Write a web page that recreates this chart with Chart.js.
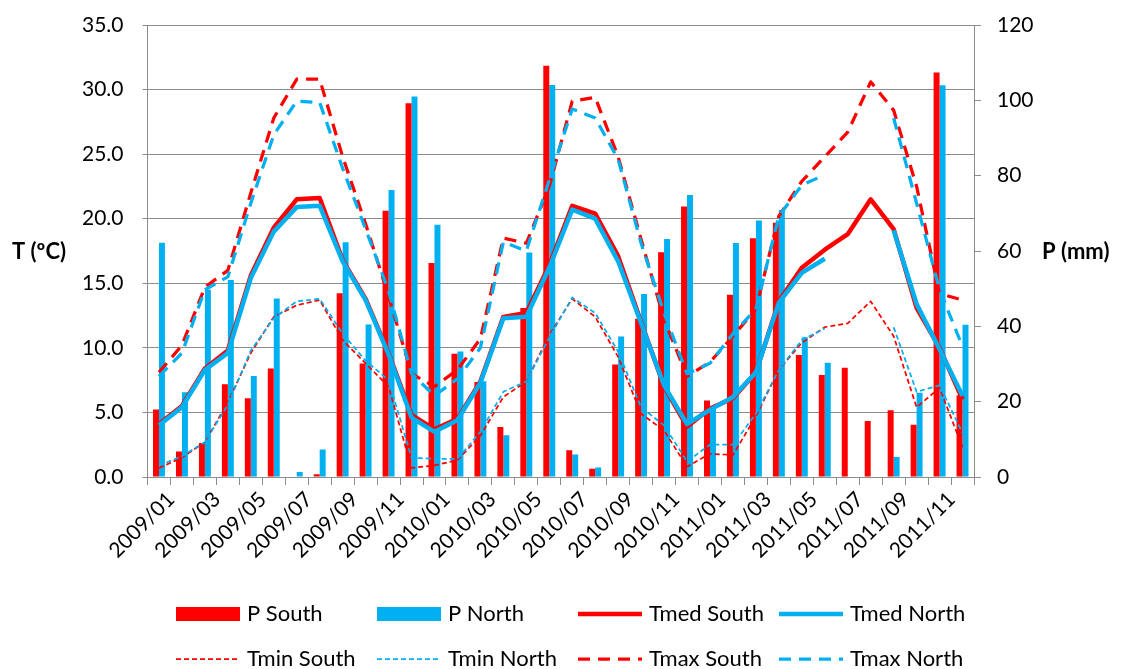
<!DOCTYPE html>
<html>
<head>
<meta charset="utf-8">
<script src="https://cdn.jsdelivr.net/npm/chart.js@4.4.0/dist/chart.umd.min.js"></script>
<style>
  body { margin: 0; background: #ffffff; }
  #wrap { width: 1123px; height: 669px; }
</style>
</head>
<body>
<div id="wrap"><canvas id="myChart"></canvas></div>
<script>
const months = [
  '2009/01', '2009/02', '2009/03', '2009/04', '2009/05', '2009/06',
  '2009/07', '2009/08', '2009/09', '2009/10', '2009/11', '2009/12',
  '2010/01', '2010/02', '2010/03', '2010/04', '2010/05', '2010/06',
  '2010/07', '2010/08', '2010/09', '2010/10', '2010/11', '2010/12',
  '2011/01', '2011/02', '2011/03', '2011/04', '2011/05', '2011/06',
  '2011/07', '2011/08', '2011/09', '2011/10', '2011/11', '2011/12'
];

// precipitation (mm)
const pSouth = [
  17.9, 6.8, 9.0, 24.6, 20.9, 28.8, 0, 0.7, 48.8, 30.1, 70.7, 99.2,
  56.8, 32.7, 25.2, 13.3, 44.9, 109.2, 7.1, 2.2, 29.9, 42.0, 59.7, 71.8,
  20.3, 48.4, 63.4, 67.5, 32.4, 27.1, 29.0, 14.9, 17.7, 13.9, 107.4, 21.7
];
const pNorth = [
  62.2, 22.5, 49.7, 52.3, 26.8, 47.4, 1.3, 7.3, 62.3, 40.5, 76.2, 101.0,
  67.0, 33.3, 25.4, 11.1, 59.6, 104.1, 6.0, 2.5, 37.3, 48.6, 63.2, 74.9,
  18.5, 62.1, 68.1, 70.9, 37.1, 30.3, null, null, 5.3, 22.4, 104.0, 40.4
];

// temperatures (ºC)
const tmedSouth = [
  4.1, 5.5, 8.4, 9.8, 15.6, 19.3, 21.5, 21.6, 16.8, 13.8, 9.6, 4.8,
  3.7, 4.5, 7.4, 12.4, 12.7, 16.4, 21.0, 20.4, 17.1, 12.0, 7.0, 3.9,
  5.3, 6.1, 8.1, 13.6, 16.2, 17.6, 18.8, 21.5, 19.2, 13.1, 10.0, 6.0
];
const tmedNorth = [
  4.0, 5.4, 8.3, 9.6, 15.4, 19.0, 20.9, 21.0, 16.7, 13.7, 9.5, 4.6,
  3.5, 4.4, 7.3, 12.3, 12.4, 16.2, 20.7, 20.0, 16.7, 11.9, 7.1, 4.1,
  5.2, 6.2, 8.1, 13.5, 15.8, 16.9, null, null, 19.1, 13.4, 9.9, 6.3
];
const tminSouth = [
  0.7, 1.5, 2.7, 5.8, 9.6, 12.4, 13.3, 13.7, 10.6, 8.8, 7.0, 0.7,
  0.9, 1.3, 3.2, 6.2, 7.4, 11.0, 13.8, 12.4, 9.3, 4.9, 3.6, 0.8,
  1.8, 1.7, 4.7, 8.3, 10.4, 11.6, 11.9, 13.6, 10.9, 5.4, 6.9, 2.3
];
const tminNorth = [
  0.9, 1.6, 2.7, 5.6, 9.8, 12.3, 13.6, 13.8, 11.1, 9.0, 7.5, 1.5,
  1.4, 1.4, 3.5, 6.6, 7.4, 10.8, 13.9, 12.7, 9.7, 5.4, 4.0, 1.2,
  2.5, 2.5, 4.9, 8.3, 10.6, 11.5, null, null, 11.6, 6.6, 7.1, 3.4
];
const tmaxSouth = [
  8.1, 10.2, 14.7, 16.0, 22.0, 27.8, 30.8, 30.8, 24.8, 19.6, 14.0, 8.0,
  7.0, 8.3, 10.7, 18.5, 18.1, 22.5, 29.1, 29.4, 24.8, 18.4, 12.2, 7.8,
  8.9, 10.9, 13.0, 20.2, 22.9, 24.8, 26.7, 30.6, 28.4, 22.5, 14.2, 13.7
];
const tmaxNorth = [
  7.8, 9.6, 14.5, 15.5, 21.2, 26.5, 29.1, 29.0, 23.9, 19.2, 14.4, 8.0,
  6.3, 7.6, 10.0, 18.2, 17.5, 23.0, 28.5, 27.8, 24.6, 18.1, 12.7, 8.0,
  8.8, 11.1, 13.0, 20.2, 22.6, 23.4, null, null, 27.8, 21.2, 14.5, 10.1
];

const RED = '#ff0000';
const BLUE = '#00b0f0';
const GRID = '#8c8c8c';
const FONT = 'Lato, "Open Sans", sans-serif';

function lineSet(label, data, color, width, dash, order) {
  return {
    type: 'line',
    label: label,
    data: data,
    yAxisID: 'yT',
    borderColor: color,
    backgroundColor: color,
    borderWidth: width,
    borderDash: dash,
    borderJoinStyle: 'round',
    pointRadius: 0,
    pointHoverRadius: 0,
    tension: 0,
    spanGaps: false,
    order: order
  };
}

// legend laid out as a fixed 4-column grid under the plot
const gridLegend = {
  id: 'gridLegend',
  afterDraw(chart, args, opts) {
    const ctx = chart.ctx;
    chart.data.datasets.forEach((ds, i) => {
      const x = opts.left + (i % 4) * opts.colWidth;
      const y = opts.top + Math.floor(i / 4) * opts.rowHeight;
      ctx.save();
      if (ds.type === 'bar') {
        ctx.fillStyle = ds.backgroundColor;
        ctx.fillRect(x, y - 7, opts.sample, 14);
      } else {
        ctx.strokeStyle = ds.borderColor;
        ctx.lineWidth = ds.borderWidth;
        ctx.setLineDash(ds.borderDash || []);
        ctx.beginPath();
        ctx.moveTo(x, y);
        ctx.lineTo(x + opts.sample, y);
        ctx.stroke();
      }
      ctx.setLineDash([]);
      ctx.fillStyle = '#000';
      ctx.font = '22px ' + FONT;
      ctx.textBaseline = 'middle';
      ctx.textAlign = 'left';
      ctx.fillText(ds.label, x + opts.sample + 7, y);
      ctx.restore();
    });
  }
};

// horizontal axis titles beside the tick labels
const sideTitles = {
  id: 'sideTitles',
  afterDraw(chart) {
    const ctx = chart.ctx;
    ctx.save();
    ctx.fillStyle = '#000';
    ctx.font = 'bold 22px ' + FONT;
    ctx.textBaseline = 'middle';
    ctx.textAlign = 'left';
    ctx.fillText('T (ºC)', 12, 252);
    ctx.fillText('P (mm)', 1042, 252);
    ctx.restore();
  }
};

const data = {
  labels: months,
  datasets: [
    { type: 'bar', label: 'P South', data: pSouth, yAxisID: 'yP', backgroundColor: RED, borderWidth: 0, order: 20 },
    { type: 'bar', label: 'P North', data: pNorth, yAxisID: 'yP', backgroundColor: BLUE, borderWidth: 0, order: 20 },
    lineSet('Tmed South', tmedSouth, RED, 4.5, [], 8),
    lineSet('Tmed North', tmedNorth, BLUE, 4.5, [], 7),
    lineSet('Tmin South', tminSouth, RED, 1.75, [5, 3], 6),
    lineSet('Tmin North', tminNorth, BLUE, 1.75, [5, 3], 5),
    lineSet('Tmax South', tmaxSouth, RED, 3.25, [12, 8], 4),
    lineSet('Tmax North', tmaxNorth, BLUE, 3.25, [12, 8], 3)
  ]
};

const tickFont = { family: FONT, size: 21 };

// fixed axis sizes so the plot area sits where it should
function fixWidth(w) {
  return (s) => {
    s.width = w;
    s.paddingTop = 0;
    s.paddingBottom = 0;
  };
}

const config = {
  type: 'bar',
  data: data,
  plugins: [gridLegend, sideTitles],
  options: {
    responsive: true,
    maintainAspectRatio: false,
    animation: false,
    layout: { padding: { top: 25, left: 0, right: 0, bottom: 0 } },
    datasets: {
      bar: { categoryPercentage: 0.52, barPercentage: 1.0 }
    },
    plugins: {
      legend: { display: false },
      tooltip: { enabled: false },
      gridLegend: { left: 176, top: 614, colWidth: 201, rowHeight: 45, sample: 64 }
    },
    scales: {
      x: {
        offset: true,
        grid: { offset: true, drawOnChartArea: false, drawTicks: true, tickLength: 8, color: GRID },
        border: { display: true, color: GRID, width: 1 },
        ticks: {
          autoSkip: false,
          minRotation: 45,
          maxRotation: 45,
          color: '#000',
          font: tickFont,
          padding: 2,
          labelOffset: 12,
          callback: (v, i) => (i % 2 === 0 ? months[i] : '')
        },
        afterFit: (s) => { s.height = 192; }
      },
      yT: {
        position: 'left',
        min: 0,
        max: 35,
        grid: { color: GRID, tickLength: 5 },
        border: { display: true, color: GRID, width: 1 },
        ticks: {
          stepSize: 5,
          padding: 19,
          color: '#000',
          font: tickFont,
          callback: (v) => v.toFixed(1)
        },
        afterFit: fixWidth(147.5)
      },
      yP: {
        position: 'right',
        min: 0,
        max: 120,
        grid: { drawOnChartArea: false, color: GRID, tickLength: 7 },
        border: { display: true, color: GRID, width: 1 },
        ticks: { stepSize: 20, padding: 16, color: '#000', font: tickFont },
        afterFit: fixWidth(149)
      }
    }
  }
};

new Chart(document.getElementById('myChart'), config);
</script>
</body>
</html>
